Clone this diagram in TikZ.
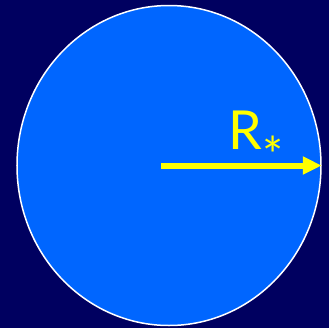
\documentclass[tikz,border=0pt]{standalone}
\usepackage{fontspec}
\newfontfamily\labelfont{Lato}
\usetikzlibrary{shapes.geometric, arrows.meta, positioning}
\definecolor{bgnavy}{HTML}{000060}
\definecolor{starblue}{HTML}{0066FF}
\definecolor{radyellow}{HTML}{FFFF00}
\tikzset{
  stardisc/.style={ellipse, draw=white, line width=1.5bp, fill=starblue,
    minimum width=304bp, minimum height=320bp, inner sep=0pt},
  radarrow/.style={radyellow, line width=6bp, -{Triangle[length=19bp, width=17bp]}},
  radlabel/.style={text=radyellow, inner sep=0pt, anchor=base west,
    font=\labelfont\fontsize{54}{60}\selectfont}
}
\begin{document}
\begin{tikzpicture}[x=1bp, y=-1bp]
  % Background
  \fill[bgnavy] (0,0) rectangle (329,328);
  \useasboundingbox (0,0) rectangle (329,328);

  % Star disc
  \node[stardisc] (star) at (169,165.5) {};
  \coordinate (centre) at (161,165.5);

  % Radius arrow and label
  \draw[radarrow] (centre) -- (star.east);
  \node[radlabel] (rlabel) at (228,149)
    {R\kern1bp\raisebox{-24bp}{\fontsize{50}{50}\selectfont *}};
\end{tikzpicture}
\end{document}
